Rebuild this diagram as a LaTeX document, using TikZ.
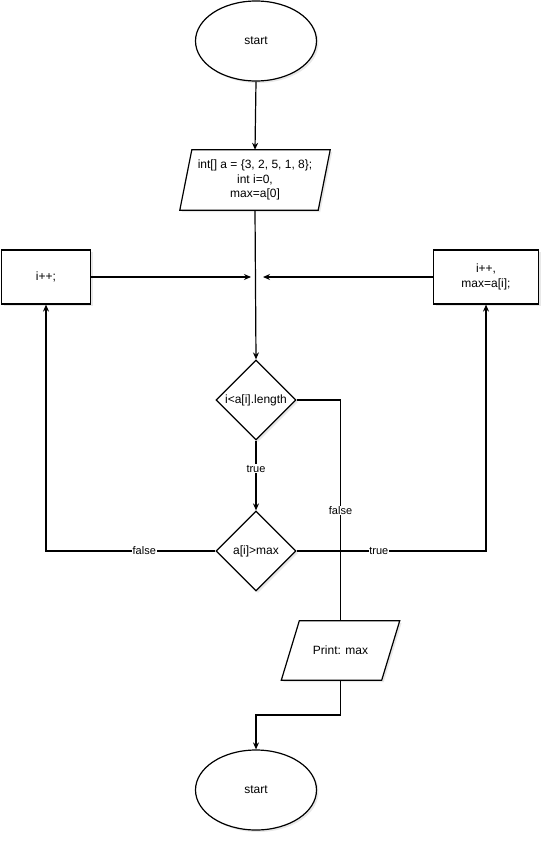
\documentclass[tikz,border=0pt]{standalone}
\usepackage{fontspec}
\setmainfont{Liberation Sans}
\usetikzlibrary{shapes.geometric,arrows.meta,shadows,backgrounds}
\tikzset{
  shad/.style={drop shadow={opacity=0.18, shadow xshift=2pt, shadow yshift=-2pt}},
  base/.style={draw, line width=1.2pt, fill=white, align=center, font=\fontsize{12}{14.5}\selectfont, shad},
  term/.style={base, ellipse, minimum width=121pt, minimum height=80pt, inner sep=0pt},
  iotext/.style={align=center, font=\fontsize{12}{14.5}\selectfont, inner sep=0pt},
  ioshape/.style={draw, line width=1.2pt, fill=white, shad},
  procbox/.style={base, rectangle, inner sep=0pt},
  dec/.style={base, diamond, minimum width=80pt, minimum height=80pt, inner sep=0pt},
  arr/.style={-{Stealth[length=7pt,width=6pt]}, line width=1.2pt},
  ln/.style={line width=1.2pt},
  lab/.style={fill=white, font=\fontsize{11}{13}\selectfont, inner sep=0.8pt},
}
\begin{document}
\begin{tikzpicture}[x=1pt,y=-1pt]
\useasboundingbox (0,0) rectangle (547,842);
\node[term] (s) at (256,41) {start};
\node[iotext, minimum width=138pt, minimum height=60pt] (init) at (255,180) {int[] a = \{3, 2, 5, 1, 8\};\\int i=0,\\max=a[0]};
\node[procbox, minimum width=89pt, minimum height=54pt] (inc) at (46,277) {i++;};
\node[procbox, minimum width=105pt, minimum height=54pt] (upd) at (486,277) {i++,\\max=a[i];};
\node[dec] (d1) at (256,400) {i<a[i].length};
\node[dec] (d2) at (256,551) {a[i]>max};
\node[iotext, minimum width=100pt, minimum height=59pt] (pr) at (340.5,650.5) {Print: max};
\node[term] (e) at (256,790) {start};
\begin{scope}[on background layer]
\path[ioshape] ([xshift=6pt]init.north west) -- ([xshift=6pt]init.north east) -- ([xshift=-6pt]init.south east) -- ([xshift=-6pt]init.south west) -- cycle;
\path[ioshape] ([xshift=9pt]pr.north west) -- ([xshift=9pt]pr.north east) -- ([xshift=-9pt]pr.south east) -- ([xshift=-9pt]pr.south west) -- cycle;
\end{scope}
\coordinate (jl) at (251,277);
\coordinate (jr) at (263,277);
\coordinate (m) at (256,715);
\draw[arr] (s.south) -- (init.north);
\draw[arr] (init.south) -- (d1.north);
\draw[arr] (inc.east) -- (jl);
\draw[arr] (upd.west) -- (jr);
\draw[ln] (d1.east) -| node[lab, pos=0.75] {false} (pr.north);
\draw[arr] (d1.south) -- node[lab, pos=0.4] {true} (d2.north);
\draw[arr] (d2.west) -| node[lab, pos=0.21] {false} (inc.south);
\draw[arr] (d2.east) -| node[lab, pos=0.217] {true} (upd.south);
\draw[arr] (pr.south) |- (m) -- (e.north);
\end{tikzpicture}
\end{document}
